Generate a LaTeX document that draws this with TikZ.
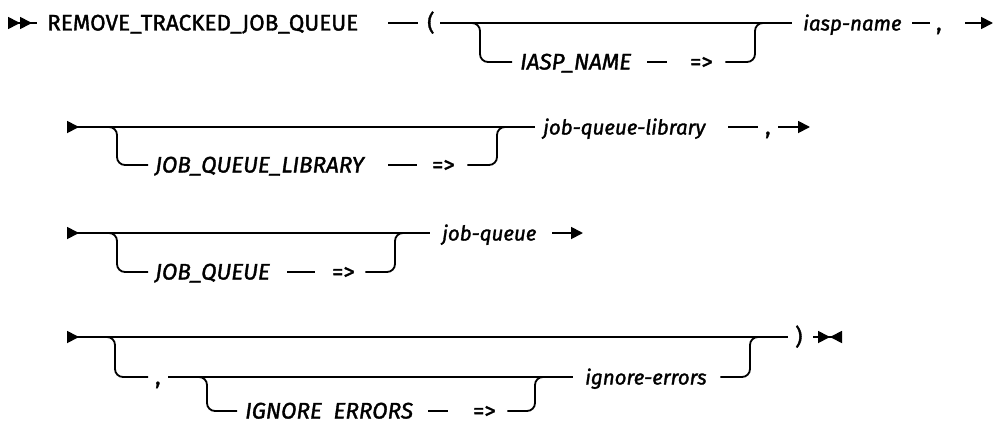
\documentclass[tikz,border=0pt]{standalone}
\usepackage{fontspec}
\setmainfont{Fira Sans}[FakeBold=1.5]
\usepackage{tikz}
\usetikzlibrary{arrows.meta}

% caixa de largura fixa, texto alinhado a esquerda
\newcommand{\fixw}[2]{\makebox[#1][l]{#2}}

\begin{document}
\begin{tikzpicture}[
        x=1pt, y=-1pt,
        tri/.tip={Triangle[length=12pt,width=12pt]},
        rtri/.tip={Triangle[reversed,length=12pt,width=12pt]},
        rail/.style={
            line width=1.8pt,
            rounded corners=8pt
        },
        lbl/.style={
            inner sep=0pt,
            anchor=west,
            text height=15pt,
            text depth=0pt,
            font=\fontsize{22.5}{22.5}\selectfont
        },
        kw/.style={
            lbl,
            font=\fontsize{22.5}{22.5}\selectfont\itshape
        },
        var/.style={
            lbl,
            font=\fontsize{20.5}{20.5}\selectfont\itshape
        }
    ]
        \useasboundingbox (0,0) rectangle (996,423);

        % Linha 1: nome do procedimento e iasp-name
        \coordinate (r1s) at (8,23);
        \node[lbl] (cmd) at (47,23) {\fixw{311pt}{REMOVE\_TRACKED\_JOB\_QUEUE}};
        \node[lbl] (lp1) at (427,23) {\fixw{6pt}{(}};
        \node[kw] (iaspkw) at (520,62) {\fixw{108pt}{IASP\_NAME}};
        \node[lbl] (arr1) at (690,62) {\fixw{23pt}{=>}};
        \node[var] (iasp) at (803,23) {\fixw{102pt}{iasp-name}};
        \node[lbl] (cm1) at (936,23) {\fixw{5pt}{,}};
        \coordinate (r1a) at (472,23);
        \coordinate (r1b) at (755,23);
        \coordinate (r1e) at (993,23);

        \draw[rail, {rtri[]rtri[]}-, shorten >=10pt] (r1s) -- (cmd.west);
        \draw[rail, shorten <=30pt, shorten >=9pt] (cmd.east) -- (lp1.west);
        \draw[rail, shorten <=7pt, shorten >=11pt] (lp1.east) -- (iasp.west);
        \draw[rail, shorten >=8pt] (r1a) -- ++(8,0) |- (iaspkw.west);
        \draw[rail, shorten <=19pt, shorten >=23pt] (iaspkw.east) -- (arr1.west);
        \draw[rail, shorten <=12pt] (arr1.east) -| (r1b) -- ++(8,0);
        \draw[rail, shorten <=7pt, shorten >=6pt] (iasp.east) -- (cm1.west);
        \draw[rail, -tri, shorten <=24pt] (cm1.east) -- (r1e);

        % Linha 2: job-queue-library
        \coordinate (r2s) at (67,127);
        \node[kw] (jqlkw) at (155,165) {\fixw{207pt}{JOB\_QUEUE\_LIBRARY}};
        \node[lbl] (arr2) at (432,165) {\fixw{23pt}{=>}};
        \node[var] (jql) at (543,127) {\fixw{167pt}{job-queue-library}};
        \node[lbl] (cm2) at (765,127) {\fixw{5pt}{,}};
        \coordinate (r2a) at (109,127);
        \coordinate (r2b) at (497,127);
        \coordinate (r2e) at (810,127);

        \draw[rail, rtri-, shorten >=8pt] (r2s) -- (jql.west);
        \draw[rail, shorten >=7pt] (r2a) -- ++(8,0) |- (jqlkw.west);
        \draw[rail, shorten <=26pt, shorten >=15pt] (jqlkw.east) -- (arr2.west);
        \draw[rail, shorten <=12pt] (arr2.east) -| (r2b) -- ++(10,0);
        \draw[rail, shorten <=18pt, shorten >=7pt] (jql.east) -- (cm2.west);
        \draw[rail, -tri, shorten <=8pt] (cm2.east) -- (r2e);

        % Linha 3: job-queue
        \coordinate (r3s) at (67,233);
        \node[kw] (jqkw) at (155,272) {\fixw{112pt}{JOB\_QUEUE}};
        \node[lbl] (arr3) at (332,272) {\fixw{21pt}{=>}};
        \node[var] (jq) at (442,233) {\fixw{96pt}{job-queue}};
        \coordinate (r3a) at (109,233);
        \coordinate (r3b) at (395,233);
        \coordinate (r3e) at (583,233);

        \draw[rail, rtri-, shorten >=12pt] (r3s) -- (jq.west);
        \draw[rail, shorten >=7pt] (r3a) -- ++(8,0) |- (jqkw.west);
        \draw[rail, shorten <=20pt, shorten >=17pt] (jqkw.east) -- (arr3.west);
        \draw[rail, shorten <=12pt] (arr3.east) -| (r3b) -- ++(8,0);
        \draw[rail, -tri, shorten <=14pt] (jq.east) -- (r3e);

        % Linha 4: ignore-errors opcional e fim
        \coordinate (r4s) at (67,337);
        \node[lbl] (cm4) at (155,377) {\fixw{5pt}{,}};
        \node[kw] (igkw) at (245,411) {\fixw{167pt}{IGNORE\ \ ERRORS}};
        \node[lbl] (arr4) at (473,411) {\fixw{24pt}{=>}};
        \node[var] (ig) at (585,377) {\fixw{122pt}{ignore-errors}};
        \node[lbl] (rp4) at (795,337) {\fixw{7pt}{)}};
        \coordinate (r4a) at (107,337);
        \coordinate (r4b) at (199,377);
        \coordinate (r4c) at (535,377);
        \coordinate (r4d) at (750,337);
        \coordinate (r4e) at (842,337);

        \draw[rail, rtri-, shorten >=7pt] (r4s) -- (rp4.west);
        \draw[rail, shorten >=7pt] (r4a) -- ++(8,0) |- (cm4.west);
        \draw[rail, shorten <=8pt, shorten >=12pt] (cm4.east) -- (ig.west);
        \draw[rail, shorten >=8pt] (r4b) -- ++(8,0) |- (igkw.west);
        \draw[rail, shorten <=16pt, shorten >=25pt] (igkw.east) -- (arr4.west);
        \draw[rail, shorten <=10pt] (arr4.east) -| (r4c) -- ++(10,0);
        \draw[rail, shorten <=13pt] (ig.east) -| (r4d) -- ++(8,0);
        \draw[rail, -{tri[]rtri[]}, shorten <=11pt] (rp4.east) -- (r4e);
    \end{tikzpicture}
\end{document}
